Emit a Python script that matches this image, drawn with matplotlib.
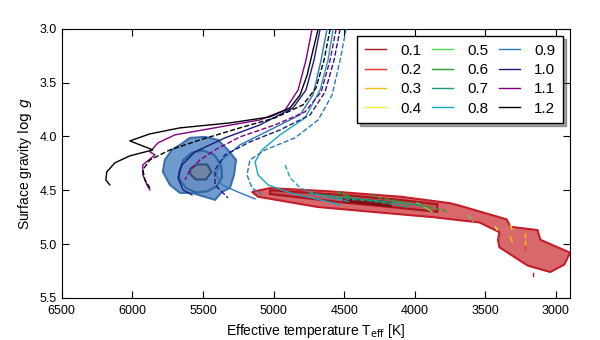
import matplotlib
matplotlib.use('Agg')
import matplotlib.pyplot as plt

plt.rcParams['font.family'] = ['Liberation Sans', 'DejaVu Sans']
plt.rcParams['mathtext.fontset'] = 'dejavusans'

# masses (legend labels) and their colours
masses = ['0.1', '0.2', '0.3', '0.4', '0.5', '0.6', '0.7', '0.8', '0.9', '1.0', '1.1', '1.2']
colors = ['#a81c1c', '#e0321e', '#f0c010', '#f2ee30', '#50dd50', '#28a030',
          '#1a9a7a', '#1aa6bc', '#2a78b8', '#1a1a80', '#800080', '#000000']

# tracks (Teff, logg) for each mass, solid and dashed sets
solid_teff = {
    '0.1': [3160, 3160],
    '0.2': [3216, 3216],
    '0.3': [3323, 3309],
    '0.4': [3429, 3415],
    '0.5': [3982, 3876],
    '0.6': [4550, 4458],
    '0.7': [4750, 4400, 3950],
    '0.8': [4578, 4614, 4670, 4777, 4954, 5082, 5131, 5110, 5039, 4883, 4670, 4528],
    '0.9': [4621, 4663, 4720, 4812, 5025, 5238, 5365, 5408, 5365, 5238, 5131],
    '1.0': [4670, 4713, 4770, 4862, 5096, 5344, 5557, 5649, 5677, 5642, 5578],
    '1.1': [4727, 4770, 4826, 4918, 5096, 5379, 5699, 5819, 5876, 5840, 5926, 5926, 5897, 5876],
    '1.2': [4684, 4720, 4762, 4812, 4883, 5025, 5309, 5663, 5876, 6018, 5855, 6018, 6124,
            6181, 6188, 6160],
}
solid_logg = {
    '0.1': [5.268, 5.296],
    '0.2': [5.007, 5.054],
    '0.3': [4.933, 4.980],
    '0.4': [4.840, 4.868],
    '0.5': [4.617, 4.701],
    '0.6': [4.515, 4.561],
    '0.7': [4.53, 4.58, 4.64],
    '0.8': [3.0, 3.288, 3.567, 3.827, 3.985, 4.125, 4.236, 4.357, 4.450, 4.524, 4.589, 4.636],
    '0.9': [3.0, 3.288, 3.613, 3.799, 3.939, 4.078, 4.218, 4.357, 4.450, 4.524, 4.580],
    '1.0': [3.0, 3.288, 3.567, 3.734, 3.892, 4.013, 4.143, 4.264, 4.385, 4.496, 4.543],
    '1.1': [3.0, 3.288, 3.567, 3.753, 3.846, 3.911, 3.985, 4.060, 4.143, 4.171, 4.264,
            4.357, 4.450, 4.496],
    '1.2': [3.0, 3.195, 3.428, 3.613, 3.734, 3.818, 3.874, 3.920, 3.976, 4.041, 4.125,
            4.180, 4.245, 4.329, 4.403, 4.450],
}
dashed_teff = {
    '0.3': [3216, 3216],
    '0.4': [3323, 3309],
    '0.5': [3621, 3585],
    '0.6': [4316, 4245, 3798, 3770],
    '0.7': [4600, 4300, 4030],
    '0.8': [4918, 4883, 4812, 4670, 4457],
    '0.9': [4486, 4528, 4585, 4684, 4848, 5060, 5167, 5188, 5153, 5082],
    '1.0': [4528, 4571, 4635, 4741, 4954, 5167, 5344, 5415, 5415, 5323],
    '1.1': [4557, 4599, 4663, 4777, 4989, 5238, 5415, 5521, 5592, 5628],
    '1.2': [4599, 4642, 4699, 4791, 4989, 5238, 5521, 5734, 5876, 5926, 5911, 5876],
}
dashed_logg = {
    '0.3': [4.896, 5.035],
    '0.4': [4.821, 4.868],
    '0.5': [4.729, 4.794],
    '0.6': [4.543, 4.571, 4.682, 4.710],
    '0.7': [4.57, 4.60, 4.66],
    '0.8': [4.264, 4.385, 4.478, 4.552, 4.608],
    '0.9': [3.0, 3.288, 3.613, 3.846, 4.013, 4.125, 4.218, 4.357, 4.478, 4.543],
    '1.0': [3.0, 3.288, 3.586, 3.799, 3.939, 4.050, 4.171, 4.310, 4.450, 4.571],
    '1.1': [3.0, 3.288, 3.586, 3.771, 3.892, 4.004, 4.125, 4.218, 4.310, 4.403],
    '1.2': [3.0, 3.288, 3.548, 3.706, 3.827, 3.920, 4.032, 4.125, 4.218, 4.310, 4.403, 4.478],
}

# confidence regions (outer -> inner)
blue_teff = [
    [5784, 5770, 5720, 5663, 5592, 5486, 5394, 5323, 5266, 5280, 5309, 5365, 5415, 5486,
     5578, 5663, 5734, 5784],
    [5670, 5640, 5578, 5500, 5420, 5370, 5365, 5400, 5470, 5550, 5620, 5665, 5670],
    [5590, 5540, 5470, 5440, 5480, 5550, 5590, 5590],
]
blue_logg = [
    [4.329, 4.218, 4.125, 4.078, 4.013, 4.004, 4.032, 4.125, 4.218, 4.357, 4.478, 4.515,
     4.589, 4.561, 4.524, 4.524, 4.450, 4.329],
    [4.33, 4.22, 4.15, 4.13, 4.17, 4.27, 4.38, 4.46, 4.51, 4.52, 4.48, 4.40, 4.33],
    [4.30, 4.26, 4.26, 4.33, 4.40, 4.40, 4.35, 4.30],
]
red_teff = [
    [5153, 5025, 4600, 4100, 3750, 3690, 3350, 3320, 3130, 3110, 2970, 2900, 2940, 3040,
     3200, 3400, 3410, 3400, 3540, 3870, 4220, 4690, 5110, 5153],
    [5025, 4500, 4100, 3840, 3840, 4100, 4500, 5025],
    [4500, 4170, 4170, 4500],
]
red_logg = [
    [4.515, 4.48, 4.51, 4.56, 4.62, 4.64, 4.77, 4.84, 4.87, 4.96, 5.04, 5.08, 5.19, 5.26,
     5.20, 5.03, 4.96, 4.89, 4.80, 4.75, 4.71, 4.655, 4.56, 4.515],
    [4.50, 4.545, 4.59, 4.63, 4.70, 4.665, 4.615, 4.535],
    [4.575, 4.61, 4.645, 4.60],
]

blue_fill = ['#6f9bce', '#6890c4', '#7084a4']
blue_edge = ['#3a70ad', '#2d66a2', '#2f4f80']
red_fill = ['#d8686c', '#c8505a', '#8c1822']
red_edge = ['#c41e2a', '#a8141c', '#7a0c12']

fig = plt.figure(figsize=(6.0, 3.4), dpi=100)
ax = fig.add_axes([0.103, 0.124, 0.847, 0.791])

for i in range(3):
    ax.fill(blue_teff[i], blue_logg[i], facecolor=blue_fill[i], edgecolor=blue_edge[i],
            linewidth=1.5, zorder=1 + i)
    ax.fill(red_teff[i], red_logg[i], facecolor=red_fill[i], edgecolor=red_edge[i],
            linewidth=1.5, zorder=1 + i)

for m, c in zip(masses, colors):
    ax.plot(solid_teff[m], solid_logg[m], '-', color=c, lw=1.0, label=m, zorder=5)
    if m in dashed_teff:
        ax.plot(dashed_teff[m], dashed_logg[m], '--', color=c, lw=1.0, zorder=5)

ax.set_xlim(6500, 2900)
ax.set_ylim(5.5, 3.0)
ax.set_xticks([6500, 6000, 5500, 5000, 4500, 4000, 3500, 3000])
ax.set_yticks([3.0, 3.5, 4.0, 4.5, 5.0, 5.5])
ax.set_yticklabels(['3.0', '3.5', '4.0', '4.5', '5.0', '5.5'])
ax.tick_params(direction='in', top=True, right=True, labelsize=9, length=5)
ax.tick_params(axis='x', pad=5)
ax.set_xlabel(r'Effective temperature T$_{\rm eff}$ [K]', fontsize=10)
ax.set_ylabel(r'Surface gravity $\log\, g$', fontsize=10)

leg = ax.legend(ncol=3, loc='upper right', fontsize=11, shadow=True, fancybox=False,
                handlelength=1.4, handletextpad=0.9, columnspacing=0.7,
                labelspacing=0.35, bbox_to_anchor=(0.986, 0.974), borderaxespad=0,
                borderpad=0.5)
leg.get_frame().set_edgecolor('black')
leg.get_frame().set_linewidth(1.0)

fig.savefig('out.png', dpi=100)
